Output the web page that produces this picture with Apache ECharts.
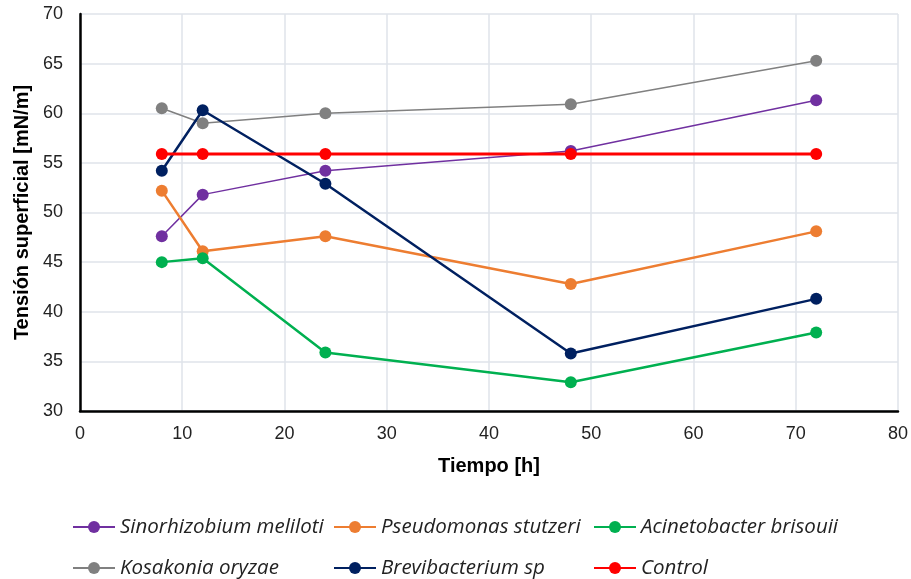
<!DOCTYPE html>
<html><head><meta charset="utf-8">
<script src="https://cdn.jsdelivr.net/npm/echarts@6/dist/echarts.min.js"></script>
<style>html,body{margin:0;padding:0;background:#fff}#c{width:911px;height:579px}</style>
</head><body><div id="c"></div>
<script>
const times = [8, 12, 24, 48, 72];
const seriesNames = ["Sinorhizobium meliloti","Pseudomonas stutzeri","Acinetobacter brisouii","Kosakonia oryzae","Brevibacterium sp","Control"];
const sinorhizobium = [47.6, 51.8, 54.2, 56.2, 61.3];
const pseudomonas = [52.2, 46.1, 47.6, 42.8, 48.1];
const acinetobacter = [45.0, 45.4, 35.9, 32.9, 37.9];
const kosakonia = [60.5, 59.0, 60.0, 60.9, 65.3];
const brevibacterium = [54.2, 60.3, 52.9, 35.8, 41.3];
const control = [55.9, 55.9, 55.9, 55.9, 55.9];
const colors = ["#7030A0","#ED7D31","#00B050","#808080","#002060","#FF0000"];
const widths = [1.5, 2.5, 2.5, 1.5, 2.5, 3];
const allValues = [sinorhizobium, pseudomonas, acinetobacter, kosakonia, brevibacterium, control];

const chart = echarts.init(document.getElementById('c'));
const series = seriesNames.map((n, i) => ({
  name: n, type: 'line',
  data: times.map((t, j) => [t, allValues[i][j]]),
  symbol: 'circle', symbolSize: 12,
  itemStyle: {color: colors[i]},
  lineStyle: {color: colors[i], width: widths[i]},
  z: 2 + i
}));
const legendText = {fontFamily: 'Open Sans', fontStyle: 'italic', fontSize: 20.5, lineHeight: 24, color: '#222'};
const colLeft = [72, 333, 593];
const rowTop = [515, 556];
const legends = seriesNames.map((n, i) => ({
  data: [n], left: colLeft[i % 3], top: rowTop[Math.floor(i / 3)], padding: 0,
  itemWidth: 42, itemHeight: 15, textStyle: legendText, selectedMode: false
}));
chart.setOption({
  animation: false,
  color: colors,
  grid: {left: 80, right: 13, top: 14, bottom: 168},
  xAxis: {
    type: 'value', min: 0, max: 80, interval: 10,
    name: 'Tiempo [h]', nameLocation: 'middle', nameGap: 45,
    nameTextStyle: {fontFamily: 'Liberation Sans', fontWeight: 'bold', fontSize: 20, color: '#000'},
    axisLine: {show: true, onZero: false, lineStyle: {color: '#000', width: 2.5}},
    axisTick: {show: false},
    axisLabel: {fontFamily: 'Liberation Sans', fontSize: 18, color: '#222', margin: 14},
    splitLine: {show: true, lineStyle: {color: '#dfe3ea', width: 1.5}}
  },
  yAxis: {
    type: 'value', min: 30, max: 70, interval: 5,
    name: 'Tensión superficial [mN/m]', nameLocation: 'middle', nameGap: 47,
    nameTextStyle: {fontFamily: 'Liberation Sans', fontWeight: 'bold', fontSize: 20, color: '#000'},
    axisLine: {show: true, lineStyle: {color: '#000', width: 2.5}},
    axisTick: {show: false},
    axisLabel: {fontFamily: 'Liberation Sans', fontSize: 18, color: '#222', margin: 17},
    splitLine: {show: true, lineStyle: {color: '#dfe3ea', width: 1.5}}
  },
  legend: legends,
  series: series
});
</script></body></html>
